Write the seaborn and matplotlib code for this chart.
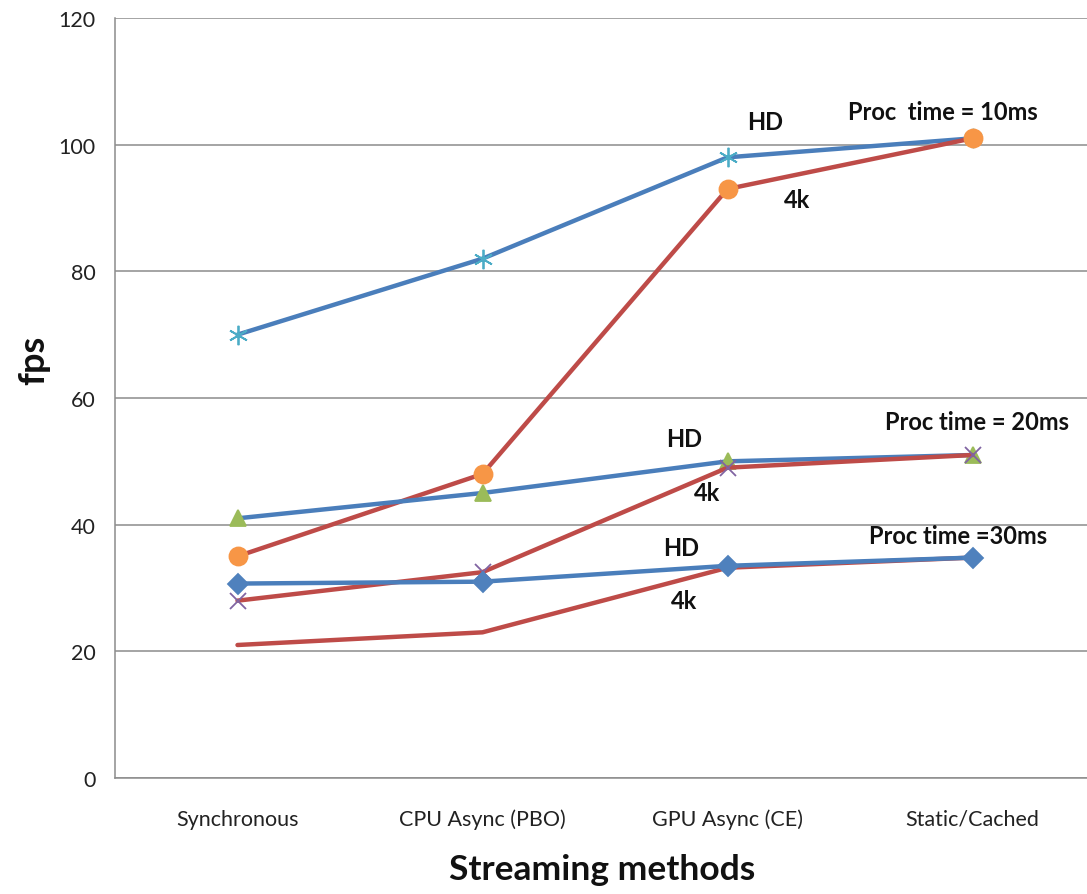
import matplotlib
matplotlib.use("Agg")
import matplotlib.pyplot as plt
import seaborn as sns
import pandas as pd

sns.set_theme(style="white")
plt.rcParams["font.family"] = ["Lato", "DejaVu Sans"]

methods = ["Synchronous", "CPU Async (PBO)", "GPU Async (CE)", "Static/Cached"]

hd_10ms = [70, 82, 98, 101]
k4_10ms = [35, 48, 93, 101]
hd_20ms = [41, 45, 50, 51]
k4_20ms = [28, 32.5, 49, 51]
hd_30ms = [30.7, 31, 33.5, 34.8]
k4_30ms = [21, 23, 33.2, 34.8]

BLUE = "#4A7EBB"
RED = "#BE4B48"

# (values, line colour, marker, marker face, marker edge, marker size)
series = [
    (hd_10ms, BLUE, (6, 2, 0), "#4BACC6", "#4BACC6", 14),
    (k4_10ms, RED, "o", "#F79646", "#F79646", 13),
    (hd_20ms, BLUE, "^", "#9BBB59", "#9BBB59", 12),
    (k4_20ms, RED, "x", "#8064A2", "#8064A2", 11),
    (k4_30ms, RED, None, None, None, 0),
    (hd_30ms, BLUE, "D", "#4F81BD", "#4F81BD", 10),
]

fig = plt.figure(figsize=(10.87, 8.95), dpi=100)
ax = fig.add_axes([115 / 1087, 1 - 779 / 895, 980 / 1087, 760 / 895])

pos = list(range(len(methods)))
for vals, lc, mk, mf, me, ms in series:
    df = pd.DataFrame({"x": pos, "fps": vals})
    kw = dict(marker=mk, markersize=ms, markerfacecolor=mf, markeredgecolor=me,
              markeredgewidth=1.3) if mk is not None else {}
    sns.lineplot(data=df, x="x", y="fps", color=lc, linewidth=3.2, ax=ax,
                 sort=False, **kw)

ax.set_xlim(-0.5, 3.5)
ax.set_ylim(0, 120)
ax.set_yticks(range(0, 121, 20))
ax.set_xticks(pos)
ax.set_xticklabels(methods)
ax.tick_params(axis="both", labelsize=15.5, colors="#222222", length=0)
ax.tick_params(axis="y", pad=14)
ax.tick_params(axis="x", pad=22)
ax.yaxis.grid(True, color="#8C8C8C", linewidth=1.1)
ax.set_axisbelow(True)
for s in ["left", "bottom"]:
    ax.spines[s].set_color("#8C8C8C")
    ax.spines[s].set_linewidth(1.1)
ax.spines["top"].set_visible(False)
ax.spines["right"].set_visible(False)

ax.set_ylabel("")
ax.set_xlabel("")
fig.text(34 / 1087, 1 - 360 / 895, "fps", fontsize=26, fontweight="bold",
         rotation=90, ha="center", va="center", color="#111111")
fig.text(602 / 1087, 1 - 870 / 895, "Streaming methods", fontsize=25.5,
         fontweight="bold", ha="center", va="center", color="#111111")

notes = [
    ("Proc  time = 10ms", 943, 112),
    ("HD", 765, 123),
    ("4k", 797, 200),
    ("Proc time = 20ms", 977, 422),
    ("HD", 684, 440),
    ("4k", 707, 494),
    ("Proc time =30ms", 958, 537),
    ("HD", 681, 548),
    ("4k", 684, 602),
]
for txt, px, py in notes:
    fig.text(px / 1087, 1 - py / 895, txt, fontsize=17, fontweight="bold",
             ha="center", va="center", color="#111111")

fig.savefig("out.png", dpi=100)
